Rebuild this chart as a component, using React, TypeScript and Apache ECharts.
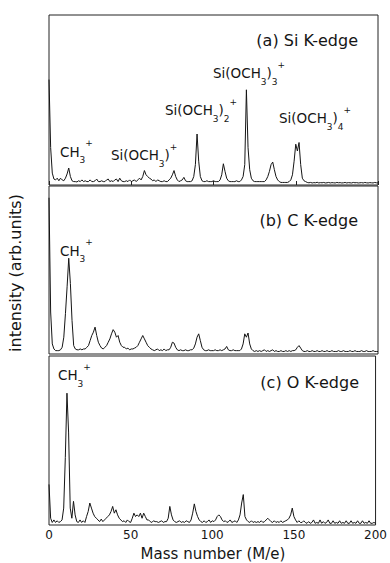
import React, { useEffect, useRef } from "react";
import * as echarts from "echarts";

// intensity (percent of panel height) at mass 0..200, step 1
const siKEdge = [
  62, 22, 7, 3.5, 3, 4, 2.5, 4, 3, 2.5,
  4, 6.5, 10, 5, 2.5, 2, 2, 1.8, 2.5, 2,
  3, 2, 2.5, 2, 2, 3, 2, 2, 2.5, 3.5,
  2, 2, 2.5, 2, 2, 3, 3.5, 2, 2.5, 2,
  3, 3.5, 2, 4, 2.5, 2, 2, 2.5, 2, 3,
  2, 2.5, 3, 2, 3, 4, 3, 5, 8.5, 6,
  5, 4, 3.5, 2.5, 3, 2, 3, 2.5, 2, 2,
  2.5, 2, 2, 3, 4, 6, 8.5, 5, 3, 2,
  2.5, 3, 4.5, 2.5, 2, 2, 2, 2.5, 5, 12,
  30, 14, 5, 2.5, 2, 2, 2.5, 2, 2, 2,
  2.5, 2, 2, 2, 3, 6, 12.5, 8, 4, 2.5,
  2, 2, 2, 2, 2.5, 2, 2, 3, 5, 12,
  56, 22, 9, 4, 2.5, 2, 2, 2, 2, 2,
  2, 2, 3, 5, 8, 12, 13.5, 9, 5, 3,
  2, 1.5, 1.5, 1.5, 1.5, 1.5, 2, 3, 6, 14,
  24, 20, 25, 12, 4, 2.5, 2, 1.5, 1.3, 1.5,
  1.2, 1.4, 1.3, 1.6, 1.2, 1.4, 1.3, 1.5, 1.2, 1.3,
  1.5, 1.2, 1.4, 1.3, 1.2, 1.5, 1.3, 1.4, 1.2, 1.3,
  1.5, 1.2, 1.4, 1.3, 1.2, 1.5, 1.3, 1.4, 1.2, 1.3,
  1.4, 1.2, 1.5, 1.3, 1.2, 1.4, 1.3, 1.2, 1.5, 1.3,
  1.2,
];

const cKEdge = [
  93, 25, 6, 3, 2, 2, 2, 2.5, 4, 10,
  24, 40, 57, 42, 20, 5, 3, 2.5, 2.5, 3,
  2.5, 3, 3, 4, 5, 8, 11, 13, 16, 11,
  7, 5, 3.5, 3, 4, 5, 7, 9, 12, 14.5,
  13, 10, 11, 7, 5, 4, 4, 3, 3.5, 2.5,
  3, 3, 3.5, 4, 5, 7, 9, 11, 9, 7,
  5, 4, 3, 2.5, 2, 2.5, 3, 2, 2.5, 2,
  3, 2, 2.5, 2.5, 4, 7, 6.5, 4, 2.5, 2,
  2.5, 2, 2, 2.5, 2, 2, 2.5, 2.5, 3.5, 6,
  10, 12, 8, 4, 2.5, 2, 2, 2.5, 2, 2,
  2, 2.5, 2, 2, 2.5, 2, 2.5, 3, 4.5, 2.5,
  2, 2, 2.5, 2, 2, 2, 2, 3, 6, 12,
  10, 12.5, 6, 3, 2, 1.5, 2, 1.5, 2, 1.5,
  2, 2.5, 1.5, 2, 1.5, 2, 2.5, 1.5, 2, 1.5,
  1.5, 2, 1.5, 1.5, 2, 1.5, 2, 1.5, 2, 2,
  2.5, 4, 5, 3.5, 2, 1.5, 1.5, 2, 1.5, 1.5,
  2, 1.5, 1.5, 2, 1.5, 1.5, 2, 1.5, 1.5, 2,
  1.5, 1.5, 2, 1.5, 1.5, 1.5, 2, 1.5, 1.5, 2,
  1.5, 1.5, 1.5, 2, 1.5, 1.5, 2, 1.5, 1.5, 1.5,
  2, 1.5, 1.5, 2, 1.5, 1.5, 1.5, 2, 1.5, 1.5,
  1.5,
];

const oKEdge = [
  24, 4, 1.5, 3, 1.5, 2.5, 1.5, 2, 3, 10,
  40, 78, 55, 10, 4, 14, 6, 2, 1.5, 3,
  1.5, 2.5, 1.5, 5, 8, 13, 10, 7, 5, 4,
  3, 2, 3.5, 2, 3, 4, 5, 6, 8, 11,
  7, 9, 6, 4, 3, 2, 2.5, 1.5, 3, 2,
  1.5, 4, 7, 5, 6, 5, 7, 4, 7, 5,
  3, 3, 2, 1.5, 2.5, 2, 2, 1.5, 2, 2.5,
  1.5, 2, 2, 4, 11, 6, 3, 2, 1.5, 2,
  2.5, 1.5, 2, 1.5, 2.5, 2, 1.5, 3, 7, 12.5,
  8, 5, 3, 2, 1.5, 2.5, 1.5, 2, 3, 1.5,
  2.5, 2, 3, 5, 6, 5, 3, 2, 2.5, 1.5,
  2, 3, 1.5, 2, 2.5, 1.5, 3, 6, 13, 18,
  5, 3, 2, 1.5, 2.5, 1.5, 2, 1.5, 2, 1.5,
  2.5, 1.5, 2, 3, 4, 3, 2, 1.5, 2.5, 1.5,
  2, 1.5, 2.5, 1.5, 2, 2.5, 3, 4, 6, 10,
  5, 3, 1.5, 2.5, 1.5, 1.5, 2.5, 1.5, 1, 2,
  1, 1.5, 3, 1, 1.5, 1, 3, 1, 2, 1,
  1.5, 3, 1, 1, 2.5, 1, 1.5, 1, 2.5, 1,
  1.5, 1, 2.5, 1, 1, 2.5, 1, 1.5, 1, 2.5,
  1, 1, 2.5, 1, 1.5, 1, 2.5, 1, 1, 1.5,
  1,
];

const massTicks = [0, 50, 100, 150, 200];
const panelTitles = ["(a) Si K-edge", "(b) C K-edge", "(c) O K-edge"];

const F = "'DejaVu Sans', sans-serif";
const INK = "#151515";

const rich = {
  m: { fontSize: 13.5, fontFamily: F, lineHeight: 26, verticalAlign: "middle", fill: INK },
  b: { fontSize: 9, fontFamily: F, lineHeight: 10, verticalAlign: "bottom", fill: INK },
  p: { fontSize: 9, fontFamily: F, lineHeight: 12, verticalAlign: "top", fill: INK },
};

function label(text: string, x: number, centerY: number) {
  return {
    type: "text",
    x,
    y: centerY - 13,
    silent: true,
    style: { text, rich, textAlign: "left", textVerticalAlign: "top", fill: INK },
  };
}

function title(text: string, x: number, y: number) {
  return {
    type: "text",
    x,
    y,
    silent: true,
    style: {
      text,
      fontSize: 16,
      fontFamily: F,
      fill: INK,
      textAlign: "right",
      textVerticalAlign: "middle",
    },
  };
}

export default function App() {
  const ref = useRef<HTMLDivElement>(null);

  useEffect(() => {
    document.body.style.margin = "0";
    if (!ref.current) return;
    const chart = echarts.init(ref.current, undefined, { renderer: "svg" });

    const grids = [
      { left: 49, right: 12, top: 15, height: 170 },
      { left: 49, right: 12, top: 186, height: 168 },
      { left: 49, right: 12, top: 356, height: 169 },
    ].map((g) => ({ ...g, show: true, borderColor: "#222", borderWidth: 1, backgroundColor: "transparent" }));

    const xBase = {
      type: "value",
      min: massTicks[0],
      max: massTicks[massTicks.length - 1],
      interval: 50,
      splitLine: { show: false },
      axisLine: { show: false },
    };

    const series = [siKEdge, cKEdge, oKEdge].map((arr, k) => ({
      type: "line",
      xAxisIndex: k,
      yAxisIndex: k,
      data: arr.map((v, i) => [i, v]),
      showSymbol: false,
      symbol: "none",
      lineStyle: { color: INK, width: 1 },
      silent: true,
    }));

    chart.setOption({
      animation: false,
      grid: grids,
      xAxis: [
        {
          ...xBase,
          gridIndex: 0,
          position: "top",
          axisTick: { show: true, inside: false, length: 4, lineStyle: { color: "#222" } },
          axisLabel: { show: false },
        },
        { ...xBase, gridIndex: 1, axisTick: { show: false }, axisLabel: { show: false } },
        {
          ...xBase,
          gridIndex: 2,
          position: "bottom",
          axisTick: { show: false },
          axisLabel: {
            show: true,
            margin: 4,
            fontSize: 12,
            fontFamily: F,
            color: INK,
            formatter: (v: number) => (massTicks.includes(v) ? String(v) : ""),
          },
        },
      ],
      yAxis: [0, 1, 2].map((k) => ({
        type: "value",
        gridIndex: k,
        min: 0,
        max: 100,
        show: false,
      })),
      series,
      graphic: [
        title(panelTitles[0], 358, 40.7),
        title(panelTitles[1], 358, 220),
        title(panelTitles[2], 359, 382.5),
        label("{m|CH}{b|3}{p|+}", 60, 151.7),
        label("{m|Si(OCH}{b|3}{m|)}{p|+}", 111, 155),
        label("{m|Si(OCH}{b|3}{m|)}{b|2}{p|+}", 165, 110),
        label("{m|Si(OCH}{b|3}{m|)}{b|3}{p|+}", 213, 73.3),
        label("{m|Si(OCH}{b|3}{m|)}{b|4}{p|+}", 279, 118),
        label("{m|CH}{b|3}{p|+}", 60, 250.8),
        label("{m|CH}{b|3}{p|+}", 58, 375.3),
        {
          type: "text",
          x: 15,
          y: 273,
          rotation: Math.PI / 2,
          silent: true,
          style: {
            text: "intensity (arb.units)",
            fontSize: 16,
            fontFamily: F,
            fill: INK,
            textAlign: "center",
            textVerticalAlign: "middle",
          },
        },
        {
          type: "text",
          x: 213,
          y: 554,
          silent: true,
          style: {
            text: "Mass number (M/e)",
            fontSize: 15,
            fontFamily: F,
            fill: INK,
            textAlign: "center",
            textVerticalAlign: "middle",
          },
        },
      ],
    });

    return () => chart.dispose();
  }, []);

  return <div ref={ref} style={{ width: 390, height: 563 }} />;
}
